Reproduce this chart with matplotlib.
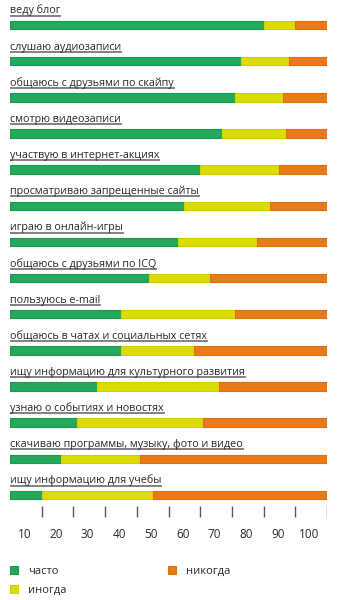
import matplotlib
matplotlib.use("Agg")
import matplotlib.pyplot as plt
from matplotlib.lines import Line2D

plt.rcParams['font.family'] = ['Open Sans', 'DejaVu Sans']

activities = [
    "веду блог",
    "слушаю аудиозаписи",
    "общаюсь с друзьями по скайпу",
    "смотрю видеозаписи",
    "участвую в интернет-акциях",
    "просматриваю запрещенные сайты",
    "играю в онлайн-игры",
    "общаюсь с друзьями по ICQ",
    "пользуюсь e-mail",
    "общаюсь в чатах и социальных сетях",
    "ищу информацию для культурного развития",
    "узнаю о событиях и новостях",
    "скачиваю программы, музыку, фото и видео",
    "ищу информацию для учебы",
]
often = [80, 73, 71, 67, 60, 55, 53, 44, 35, 35, 27.5, 21, 16, 10]
sometimes = [10, 15, 15, 20, 25, 27, 25, 19, 36, 23, 38.5, 40, 25, 35]
never = [10, 12, 14, 13, 15, 18, 22, 37, 29, 42, 34, 39, 59, 55]

series_names = ["часто", "иногда", "никогда"]
colors = ["#22aa5a", "#dcdc00", "#e87a1a"]
edge_colors = ["#1c9a50", "#d0d000", "#e06f10"]

tick_values = [10, 20, 30, 40, 50, 60, 70, 80, 90, 100]
tick_labels = ["10", "20", "30", "40", "50", "60", "70", "80", "90", "100"]

W, H = 338, 600
fig = plt.figure(figsize=(W / 100, H / 100), dpi=100)
# axes in pixel-like y coords, x in percent
ax = fig.add_axes([10 / W, 0, 317 / W, 1])
ax.set_xlim(0, 100)
ax.set_ylim(H, 0)
ax.axis("off")

row_y = [25 + i * 36.15 for i in range(len(activities))]
bar_h = 8.5

left = [0] * len(activities)
for vals, name, c, ec in zip([often, sometimes, never], series_names, colors, edge_colors):
    ax.barh(row_y, vals, left=left, height=bar_h, color=c,
            edgecolor=ec, linewidth=0.8, label=name)
    left = [l + v for l, v in zip(left, vals)]

text_objs = []
for y, label in zip(row_y, activities):
    t = ax.text(0, y - 11.5, label, fontsize=7.75, color="#2a2a2a",
                ha="left", va="baseline")
    text_objs.append(t)

fig.canvas.draw()
renderer = fig.canvas.get_renderer()
inv = ax.transData.inverted()
for t, y in zip(text_objs, row_y):
    bb = t.get_window_extent(renderer)
    x1 = inv.transform((bb.x1, 0))[0]
    ax.add_line(Line2D([0, x1], [y - 9.3, y - 9.3], color="#777777", lw=1.3))

# axis ticks
ax.vlines(tick_values, 506, 517, color="#555555", lw=1.0)
for v, lab in zip(tick_values, tick_labels):
    ax.text(v - 5.5, 534, lab, fontsize=8.5, color="#2a2a2a", ha="center", va="center")

handles = [plt.Rectangle((0, 0), 1, 1, facecolor=c, edgecolor=ec, lw=0.8)
           for c, ec in zip(colors, edge_colors)]
fig.legend(handles, series_names, ncol=2, frameon=False, fontsize=8,
           loc="upper left", bbox_to_anchor=(10 / W, 1 - 566 / H),
           handlelength=0.72, handleheight=0.72, handletextpad=0.9,
           columnspacing=9.1, labelspacing=0.75, borderaxespad=0,
           borderpad=0.0, labelcolor="#2a2a2a")

fig.savefig("out.png", dpi=100)
